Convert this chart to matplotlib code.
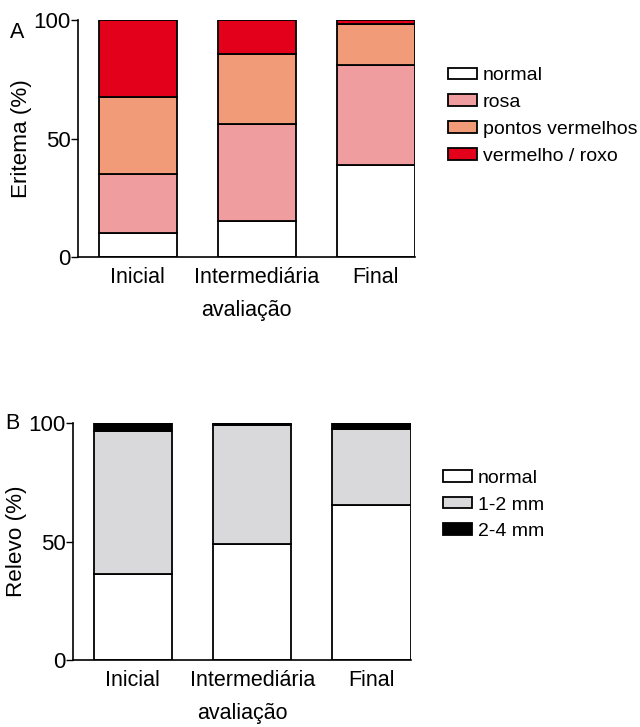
import numpy as np
import matplotlib
matplotlib.use('Agg')
import matplotlib.pyplot as plt

plt.rcParams['font.family'] = ['Liberation Sans', 'DejaVu Sans']

# dados
categorias = ['Inicial', 'Intermediária', 'Final']

# Eritema (%) - empilhado
eritema_normal = [10, 15, 39]
eritema_rosa = [25, 41, 42]
eritema_pontos = [32.5, 29.5, 17.3]
eritema_vermelho = [32.5, 14.5, 1.7]
eritema_labels = ['normal', 'rosa', 'pontos vermelhos', 'vermelho / roxo']
eritema_cores = ['#FFFFFF', '#F09DA0', '#F29B79', '#E2001A']

# Relevo (%) - empilhado
relevo_normal = [36.4, 48.8, 65.6]
relevo_12 = [60.1, 50.5, 32.0]
relevo_24 = [3.5, 0.7, 2.4]
relevo_labels = ['normal', '1-2 mm', '2-4 mm']
relevo_cores = ['#FFFFFF', '#D9D9DB', '#000000']

fs = 15.5
fig = plt.figure(figsize=(6.4, 7.27), dpi=100)
W, H = 640, 727


def eixo(l, r, t, b):
    return fig.add_axes([l / W, 1 - b / H, (r - l) / W, (b - t) / H])


def barras(ax, series, cores, labels):
    x = np.arange(len(categorias))
    base = np.zeros(len(categorias))
    for vals, c, lab in zip(series, cores, labels):
        ax.bar(x, vals, bottom=base, width=0.655, color=c,
               edgecolor='black', linewidth=1.3, label=lab)
        base += np.array(vals)
    ax.set_xlim(-0.5, 2.33)
    ax.set_ylim(0, 100)
    ax.set_yticks([0, 50, 100])
    ax.set_xticks(x)
    ax.set_xticklabels(categorias, fontsize=fs)
    ax.tick_params(axis='y', labelsize=16, length=5, width=1, pad=0.5)
    ax.tick_params(axis='x', length=0, pad=7)
    for s in ['top', 'right']:
        ax.spines[s].set_visible(False)
    ax.spines['left'].set_linewidth(1.2)
    ax.spines['bottom'].set_linewidth(1.2)
    ax.set_xlabel('avaliação', fontsize=fs, labelpad=9)


def legenda(ax, x, y):
    ax.legend(loc='center left', bbox_to_anchor=(x / W, 1 - y / H),
              bbox_transform=fig.transFigure, frameon=False, fontsize=14,
              handlelength=1.5, handleheight=0.55, handletextpad=0.3,
              labelspacing=0.5, borderaxespad=0)


# painel A
ax1 = eixo(78, 415, 20, 257)
barras(ax1, [eritema_normal, eritema_rosa, eritema_pontos, eritema_vermelho],
       eritema_cores, eritema_labels)
ax1.set_ylabel('Eritema (%)', fontsize=16.2)
ax1.yaxis.set_label_coords(-0.137, 0.5)
legenda(ax1, 440, 116)
fig.text(10 / W, 1 - 33 / H, 'A', fontsize=fs, va='center')

# painel B
ax2 = eixo(73, 411, 423, 660)
barras(ax2, [relevo_normal, relevo_12, relevo_24], relevo_cores, relevo_labels)
ax2.set_ylabel('Relevo (%)', fontsize=16.2)
ax2.yaxis.set_label_coords(-0.136, 0.5)
legenda(ax2, 435, 505)
fig.text(5 / W, 1 - 423 / H, 'B', fontsize=fs, va='center')

fig.savefig('out.png', dpi=100)
